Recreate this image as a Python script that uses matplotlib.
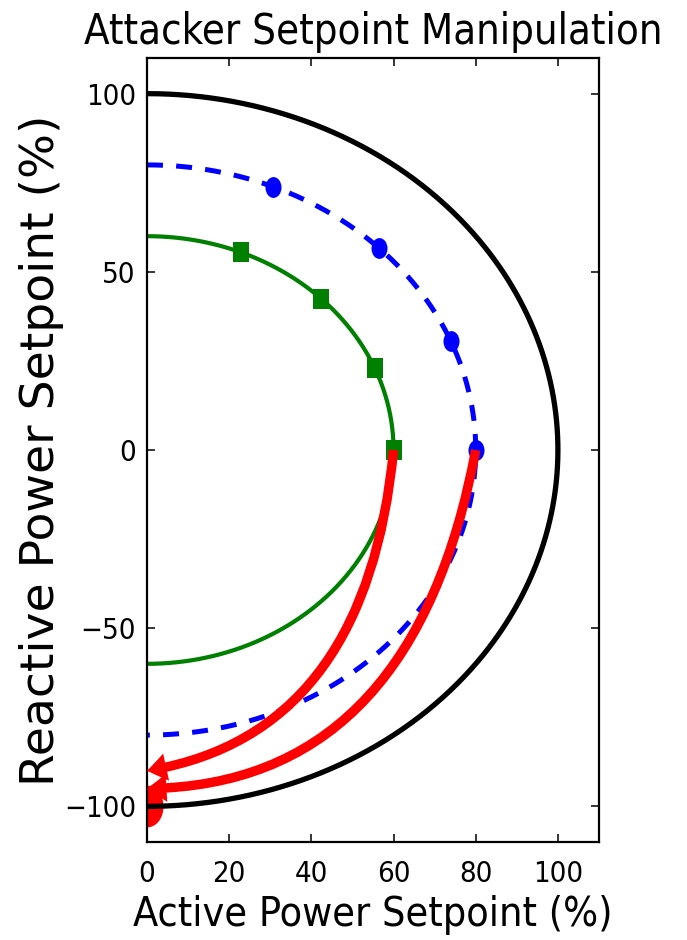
import matplotlib
matplotlib.use("Agg")
import numpy as np
import matplotlib.pyplot as plt
from matplotlib.path import Path
from matplotlib.transforms import Affine2D
from matplotlib.patches import FancyArrowPatch
from matplotlib.font_manager import FontProperties

# ---- data ----
outer_radius = 100          # capability limit
attack_radius = 80          # blue dashed trajectory
normal_radius = 60          # green trajectory
marker_angles_deg = [67.5, 45.0, 22.5, 0.0]
arrow_starts = [(60, 0), (80, 0)]
arrow_ends = [(0, -90), (0, -95)]
target_point = (0, -100)
x_ticks = [0, 20, 40, 60, 80, 100]
y_ticks = [-100, -50, 0, 50, 100]
x_limits = (0, 110)
y_limits = (-110, 110)
title_text = "Attacker Setpoint Manipulation"
x_label_text = "Active Power Setpoint (%)"
y_label_text = "Reactive Power Setpoint (%)"

plt.rcParams['lines.scale_dashes'] = False
cond = dict(family='DejaVu Sans', stretch='condensed')

fig = plt.figure(figsize=(6.87, 9.4), dpi=100)
ax = fig.add_axes([147/687, 1 - 842/940, (599-147)/687, (842-58)/940])

# squeezed (elliptical) markers to mimic the reference
ell = Affine2D().scale(0.77, 1.0).transform_path(Path.unit_circle())
rect = Path([(-0.4, -0.5), (0.4, -0.5), (0.4, 0.5), (-0.4, 0.5), (-0.4, -0.5)],
            [Path.MOVETO, Path.LINETO, Path.LINETO, Path.LINETO, Path.CLOSEPOLY])

theta = np.linspace(np.pi/2, -np.pi/2, 721)

# target point (drawn first, below everything)
ax.plot([target_point[0]], [target_point[1]], linestyle='none', marker=ell,
        markersize=30, color='red', markeredgewidth=0, zorder=1)

ax.plot(outer_radius*np.cos(theta), outer_radius*np.sin(theta), color='black', lw=3.8, zorder=2)
ax.plot(attack_radius*np.cos(theta), attack_radius*np.sin(theta), color='blue', lw=3.6,
        dashes=(11.5, 9.5), zorder=2)
ax.plot(normal_radius*np.cos(theta), normal_radius*np.sin(theta), color='green', lw=3.0, zorder=2)

ang = np.deg2rad(marker_angles_deg)
ax.plot(attack_radius*np.cos(ang), attack_radius*np.sin(ang), linestyle='none', marker=ell,
        markersize=15, color='blue', markeredgewidth=0, zorder=3)
ax.plot(normal_radius*np.cos(ang), normal_radius*np.sin(ang), linestyle='none', marker=rect,
        markersize=15, color='green', markeredgewidth=0, zorder=3)

# curved red arrows (quadratic Bezier, arc3-like control point in the original aspect)
rad = -0.39
sx_over_sy = 1.5
for (x0, y0), (x1, y1) in zip(arrow_starts, arrow_ends):
    xm, ym = (x0 + x1)/2, (y0 + y1)/2
    dx, dy = x1 - x0, y1 - y0
    cx = xm + rad*dy/sx_over_sy
    cy = ym - rad*dx*sx_over_sy
    p = Path([(x0, y0), (cx, cy), (x1, y1)], [Path.MOVETO, Path.CURVE3, Path.CURVE3])
    arr = FancyArrowPatch(path=p, arrowstyle='simple,head_length=0.7,head_width=1.0,tail_width=0.34',
                          mutation_scale=20, color='red', lw=0, zorder=4)
    ax.add_patch(arr)

ax.set_xlim(*x_limits)
ax.set_ylim(*y_limits)
ax.set_xticks(x_ticks)
ax.set_yticks(y_ticks)
ax.tick_params(direction='in', length=6, width=1.1, top=True, right=True, pad=8)
ax.tick_params(axis='x', pad=13)
for lab in ax.get_xticklabels() + ax.get_yticklabels():
    lab.set_fontproperties(FontProperties(size=21, **cond))
for s in ax.spines.values():
    s.set_linewidth(1.6)

ax.set_title(title_text, fontproperties=FontProperties(size=30, **cond), pad=10)
ax.set_xlabel(x_label_text, fontproperties=FontProperties(size=29.5, **cond), labelpad=5)
ax.set_ylabel(y_label_text, fontproperties=FontProperties(size=34, family='DejaVu Sans'), labelpad=0)

fig.savefig("out.png", dpi=100)
